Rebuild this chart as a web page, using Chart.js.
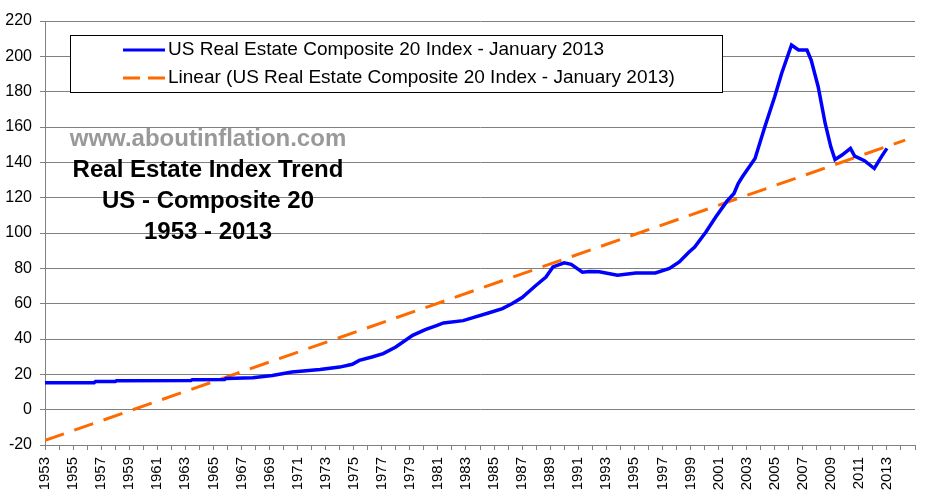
<!DOCTYPE html>
<html>
<head>
<meta charset="utf-8">
<script src="https://cdn.jsdelivr.net/npm/chart.js@4.4.0/dist/chart.umd.min.js"></script>
<style>
  html, body { margin: 0; padding: 0; background: #fff; }
  #wrap { width: 940px; height: 498px; }
</style>
</head>
<body>
<div id="wrap"><canvas id="mycanvas" width="940" height="498"></canvas></div>
<script>
// index values (year as decimal, index value)
var years = [1953.0, 1956.5, 1956.6, 1958.0, 1958.1, 1963.4, 1963.5, 1965.8, 1965.9, 1967.8,
	1969.2, 1970.6, 1972.6, 1974.0, 1974.9, 1975.4, 1976.3, 1977.1, 1978.0, 1979.2,
	1980.1, 1980.9, 1981.4, 1982.8, 1983.5, 1984.6, 1985.6, 1986.3, 1987.0, 1988.0,
	1988.7, 1989.2, 1990.0, 1990.5, 1991.3, 1991.8, 1992.5, 1993.8, 1995.1, 1996.5,
	1997.5, 1998.2, 1998.9, 1999.3, 2000.1, 2000.8, 2001.6, 2002.1, 2002.4, 2002.7,
	2003.6, 2004.3, 2005.0, 2005.5, 2006.2, 2006.7, 2007.3, 2007.6, 2008.1, 2008.6,
	2009.0, 2009.3, 2009.8, 2010.4, 2010.7, 2011.4, 2012.1, 2012.6, 2013.0];
var indexValues = [15.3, 15.3, 15.9, 15.9, 16.4, 16.5, 17.0, 17.1, 17.6, 18.1,
	19.4, 21.3, 22.7, 24.1, 25.7, 27.9, 29.8, 31.7, 35.5, 42.1,
	45.3, 47.6, 49.1, 50.4, 52.1, 54.7, 57.2, 60.1, 63.5, 70.4,
	75.1, 80.8, 83.1, 82.3, 77.8, 78.2, 78.0, 76.1, 77.4, 77.4,
	79.9, 83.6, 89.3, 92.1, 100.6, 109.1, 118.0, 122.4, 128.0, 131.8,
	142.2, 160.1, 177.1, 190.4, 206.4, 203.6, 203.6, 197.9, 182.8, 162.0,
	148.8, 141.6, 144.1, 147.9, 143.5, 140.9, 136.5, 143.1, 147.9];
// linear trend, end points
var trendYears = [1953.0, 2014.3];
var trendValues = [-17.4, 152.6];

var seriesName = "US Real Estate Composite 20 Index - January 2013";
var trendName = "Linear (US Real Estate Composite 20 Index - January 2013)";
var siteText = "www.aboutinflation.com";
var titleLines = ["Real Estate Index Trend", "US - Composite 20", "1953 - 2013"];

var FONT = "'Liberation Sans', Arial, sans-serif";

function toPoints(xs, ys){
	var pts = [];
	for (var i in xs) {
		pts.push({x: xs[i], y: ys[i]});
	}
	return pts;
}

// legend box + text in the top left
var boxPlugin = {
	id: 'boxPlugin',
	afterDraw: function(chart){
		var ctx = chart.ctx;
		ctx.save();
		// legend
		ctx.fillStyle = '#fff';
		ctx.fillRect(70, 35, 652, 57);
		ctx.strokeStyle = '#000';
		ctx.lineWidth = 1;
		ctx.strokeRect(70.5, 35.5, 652, 57);

		ctx.lineWidth = 3;
		ctx.strokeStyle = '#0000ff';
		ctx.beginPath();
		ctx.moveTo(123, 50); ctx.lineTo(165, 50);
		ctx.stroke();
		ctx.strokeStyle = '#ff6a00';
		ctx.setLineDash([17, 8]);
		ctx.beginPath();
		ctx.moveTo(123, 78); ctx.lineTo(165, 78);
		ctx.stroke();
		ctx.setLineDash([]);

		ctx.fillStyle = '#000';
		ctx.font = '19px ' + FONT;
		ctx.textBaseline = 'middle';
		ctx.textAlign = 'left';
		ctx.fillText(seriesName, 168, 50);
		ctx.fillText(trendName, 168, 78);

		// site + title text
		ctx.textAlign = 'center';
		ctx.font = 'bold 24px ' + FONT;
		ctx.fillStyle = '#999999';
		ctx.fillText(siteText, 208, 139);
		ctx.fillStyle = '#000';
		ctx.font = 'bold 24px ' + FONT;
		ctx.fillText(titleLines[0], 208, 170);
		ctx.fillText(titleLines[1], 208, 201);
		ctx.fillText(titleLines[2], 208, 232);
		ctx.restore();
	}
};

var ctx = document.getElementById('mycanvas');
var myChart = new Chart(ctx, {
	type: 'line',
	data: {
		datasets: [
			{
				label: seriesName,
				data: toPoints(years, indexValues),
				borderColor: '#0000ff',
				backgroundColor: '#0000ff',
				borderWidth: 3.5,
				pointRadius: 0,
				tension: 0,
				fill: false
			},
			{
				label: trendName,
				data: toPoints(trendYears, trendValues),
				borderColor: '#ff6a00',
				backgroundColor: '#ff6a00',
				borderWidth: 3,
				borderDash: [20, 11],
				borderCapStyle: 'butt',
				pointRadius: 0,
				fill: false
			}
		]
	},
	options: {
		responsive: false,
		animation: false,
		layout: { padding: { top: 21, right: 23, left: 0, bottom: 0 } },
		plugins: {
			legend: { display: false },
			tooltip: { enabled: false }
		},
		scales: {
			x: {
				type: 'linear',
				min: 1953,
				max: 2015,
				afterFit: function(scale){ scale.height = 53; },
				grid: {
					drawOnChartArea: false,
					drawTicks: true,
					tickLength: 5,
					color: '#808080'
				},
				border: { color: '#808080', width: 1 },
				ticks: {
					stepSize: 1,
					autoSkip: false,
					maxRotation: 90,
					minRotation: 90,
					padding: 7,
					color: '#000',
					font: { family: FONT, size: 15 },
					callback: function(v){
						if ((v - 1953) % 2 === 0 && v <= 2013) return String(v);
						return '';
					}
				}
			},
			y: {
				min: -20,
				max: 220,
				afterFit: function(scale){ scale.width = 45; },
				grid: {
					color: '#808080',
					lineWidth: 1,
					tickLength: 5
				},
				border: { color: '#808080', width: 1 },
				ticks: {
					stepSize: 20,
					padding: 8,
					color: '#000',
					font: { family: FONT, size: 16 }
				}
			}
		}
	},
	plugins: [boxPlugin]
});
</script>
</body>
</html>
